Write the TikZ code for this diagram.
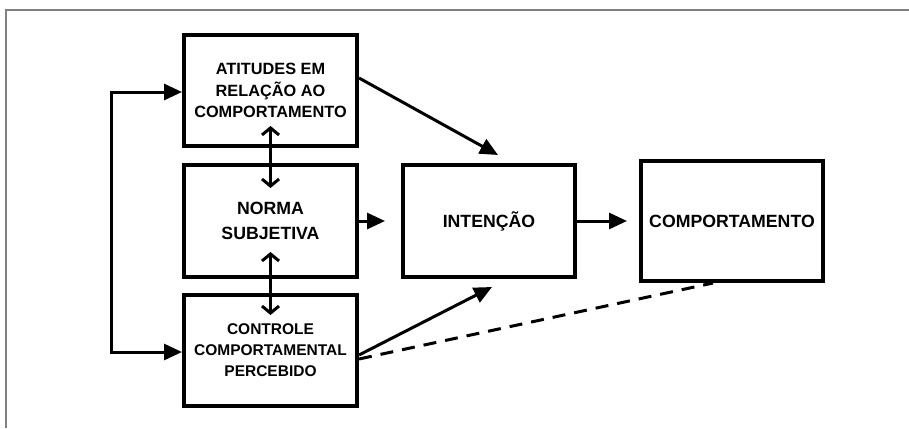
\documentclass[tikz,border=0pt]{standalone}
\usepackage{fontspec}
\setmainfont{Liberation Sans}
\usetikzlibrary{arrows.meta}
\begin{document}
\begin{tikzpicture}[x=1pt,y=-1pt,
  box/.style={draw, line width=4pt, align=center, inner sep=0pt, font=\bfseries},
  tip/.tip={Triangle[length=18pt,width=16pt]},
  arr/.style={line width=3pt, -tip},
  dbl/.style={line width=3pt, {Straight Barb[length=7pt,width=17pt]}-{Straight Barb[length=7pt,width=17pt]}},
  dsh/.style={line width=3pt, dash pattern=on 13pt off 9pt}]
\useasboundingbox (0,0) rectangle (909,428);
\fill[white] (0,0) rectangle (909,428);
\draw[line width=1.5pt, color=gray] (6,428) -- (6,10) -- (909,10);
\node[box, minimum width=173pt, minimum height=111pt, font=\bfseries\fontsize{16.3}{21.7}\selectfont] (att) at (270.5,90.5) {ATITUDES EM\\RELAÇÃO AO\\COMPORTAMENTO};
\node[box, minimum width=173pt, minimum height=112pt, font=\bfseries\fontsize{17.7}{24.5}\selectfont] (norm) at (270.5,221) {NORMA\\SUBJETIVA};
\node[box, minimum width=173pt, minimum height=111pt, font=\bfseries\fontsize{15.5}{21}\selectfont] (ctrl) at (270.5,350.5) {CONTROLE\\COMPORTAMENTAL\\PERCEBIDO};
\node[box, minimum width=172pt, minimum height=112pt, font=\bfseries\fontsize{17.7}{22}\selectfont] (int) at (489,221) {INTENÇÃO};
\node[box, minimum width=182pt, minimum height=120pt, font=\bfseries\fontsize{17.7}{22}\selectfont] (comp) at (732,221) {COMPORTAMENTO};
\coordinate (lt) at (111,92);
\coordinate (i1) at (498,155);
\coordinate (i2) at (492,287);
\draw[line width=3pt, tip-tip] ([yshift=-1.5pt]att.west) -| (lt) |- ([yshift=-1.5pt]ctrl.west);
\draw[arr] ([yshift=12.5pt]att.east) -- (i1);
\draw[arr, shorten >=16pt] (norm.east) -- (int.west);
\draw[arr, shorten >=12pt] (int.east) -- (comp.west);
\draw[arr] ([yshift=-4.5pt]ctrl.east) -- (i2);
\draw[dsh] ([yshift=-8.5pt]ctrl.east) -- ([xshift=-19pt]comp.south);
\draw[dbl] ([yshift=22pt]att.south) -- ([yshift=-25pt]norm.north);
\draw[dbl] ([yshift=27pt]norm.south) -- ([yshift=-22pt]ctrl.north);
\end{tikzpicture}
\end{document}
